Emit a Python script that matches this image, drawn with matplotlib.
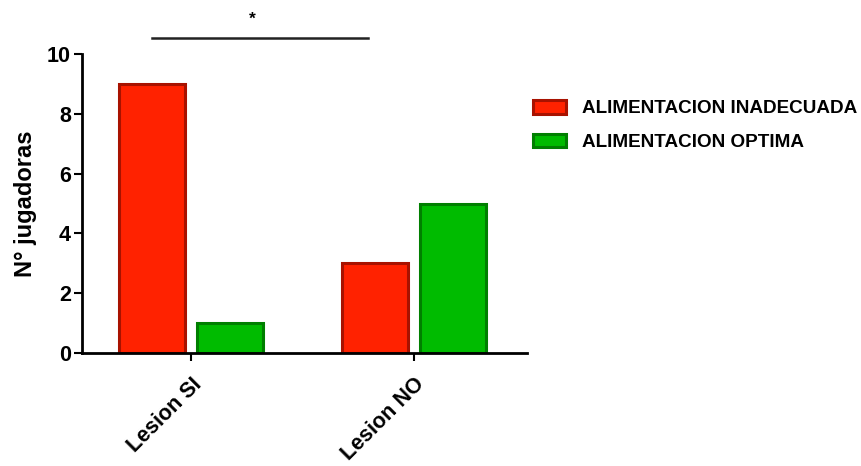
import matplotlib
matplotlib.use("Agg")
import matplotlib.pyplot as plt
import numpy as np

categories = ["Lesion SI", "Lesion NO"]
series_names = ["ALIMENTACION INADECUADA", "ALIMENTACION OPTIMA"]
inadecuada = [9, 3]
optima = [1, 5]
yticks = [0, 2, 4, 6, 8, 10]

plt.rcParams['font.family'] = ['Liberation Sans', 'DejaVu Sans']
plt.rcParams['font.weight'] = 'bold'

fig = plt.figure(figsize=(8.62, 4.66), dpi=100)
ax = fig.add_axes([0.095, 0.2425, 0.516, 0.6415])

x = np.arange(len(categories))
w = 0.296
off = 0.175
b1 = ax.bar(x - off, inadecuada, w, color='#ff2200', edgecolor='#a81200', linewidth=2.2, label=series_names[0])
b2 = ax.bar(x + off, optima, w, color='#00bb00', edgecolor='#007f00', linewidth=2.2, label=series_names[1])

ax.set_xlim(-0.489, 1.507)
ax.set_ylim(0, 10)
ax.set_yticks(yticks)
ax.set_yticklabels([str(t) for t in yticks], fontsize=15.5, fontweight='bold')
ax.set_xticks(x)
ax.set_xticklabels(categories, rotation=45, ha='right', rotation_mode='anchor', fontsize=15.5, fontweight='bold')
ax.tick_params(axis='y', direction='out', length=6, width=1.5, pad=2)
ax.tick_params(axis='x', direction='out', length=6, width=1.5, pad=9)
for s in ['top', 'right']:
    ax.spines[s].set_visible(False)
for s in ['left', 'bottom']:
    ax.spines[s].set_linewidth(2)
ax.set_ylabel("N° jugadoras", fontsize=17, fontweight='bold', labelpad=7)

# significance bar
ax.plot([x[0] - off, x[1] - off - 0.03], [10.53, 10.53], color='#222222', lw=1.8, clip_on=False)
ax.text(0.274, 11.15, "*", ha='center', va='center', fontsize=12.5, fontweight='bold')

leg = fig.legend(handles=[b1, b2], labels=series_names, loc='upper left',
                 bbox_to_anchor=(533 / 862, 1 - 100 / 466), frameon=False, fontsize=13.6,
                 handlelength=1.75, handleheight=0.74, handletextpad=0.85, labelspacing=0.85,
                 borderpad=0, borderaxespad=0)
for t in leg.get_texts():
    t.set_fontweight('bold')

fig.savefig("out.png", dpi=100)
